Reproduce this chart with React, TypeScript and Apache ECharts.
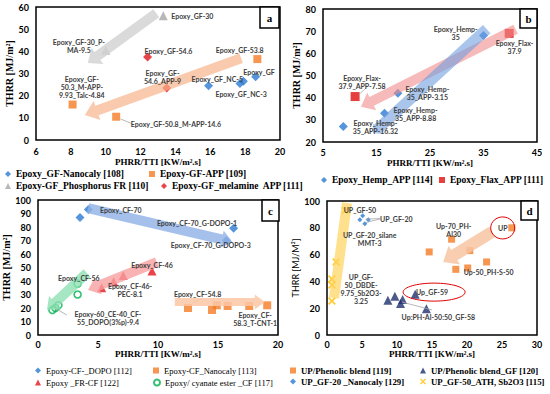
import React, { useEffect, useRef } from 'react';
import * as echarts from 'echarts';

// ---------- Panel a ----------
const aNanoclay = [[15.9, 24.5], [17.7, 25.5], [17.9, 26.5], [18.6, 28.5]];
const aAPP = [[18.7, 36.5], [8.1, 16], [10.6, 10.5]];
const aPhos = [[13.3, 56], [10, 40.5]];
const aMel = [[12.4, 37.5], [13.5, 23.5]];
const aArrows = [[12.9, 57.2, 8.97, 34.7], [17.77, 36.9, 8.8, 11.3]];
const aLabels: [number, number, string][] = [
  [14.97, 55.9, 'Epoxy_GF-30'],
  [8.46, 42.6, 'Epoxy_GF-30_P-\nMA-9.5'],
  [13.6, 40.1, 'Epoxy_GF-54.6'],
  [13.26, 28.4, 'Epoxy_GF-\n54.6_APP-9'],
  [17.69, 40.5, 'Epoxy_GF-53.8'],
  [8.63, 23.9, 'Epoxy_GF-\n50.3_M-APP-\n9.93_Talc-4.84'],
  [14.03, 7.2, 'Epoxy_GF-50.8_M-APP-14.6'],
  [16.4, 27.5, 'Epoxy_GF_NC-5'],
  [17.77, 20.7, 'Epoxy_GF_NC-3'],
  [18.8, 30.6, 'Epoxy_GF'],
];
const aLeaders = [[10.85, 9.5, 11.5, 7.4]];

// ---------- Panel b ----------
const bHemp = [[35, 68], [19, 42], [16.5, 33], [8.8, 27]];
const bFlax = [[39.8, 69], [11, 40.5]];
const bArrows = [[41, 70.9, 12.1, 35.9], [35.6, 70.9, 14.4, 24.1]];
const bLabels: [number, number, string][] = [
  [29.8, 69.3, 'Epoxy_Hemp-\n35'],
  [40.8, 63, 'Epoxy_Flax-\n37.9'],
  [12.3, 47, 'Epoxy_Flax-\n37.9_APP-7.58'],
  [24.5, 42.3, 'Epoxy_Hemp-\n35_APP-3.15'],
  [22.3, 32.7, 'Epoxy_Hemp-\n35_APP-8.88'],
  [14.8, 26.8, 'Epoxy_Hemp-\n35_APP-16.32'],
];
const bLeaders = [[13.1, 44.5, 11.7, 41.4]];

// ---------- Panel c ----------
const cDopo = [[3.5, 87], [4.2, 93], [16.3, 79], [15.7, 70]];
const cNano = [[12.5, 20], [14.5, 18.5], [14.9, 22], [15.8, 21.5], [17.6, 21.5], [19.1, 22]];
const cFR = [[5.3, 35], [6.3, 39.5], [7.1, 44], [9.5, 47.5]];
const cCE = [[3.3, 38], [3.3, 30], [1.7, 22], [1.45, 20], [1.2, 18.5]];
const cArrows = [
  [4.17, 94, 16.2, 68.9],
  [9.9, 54, 4.17, 33.3],
  [4.08, 45.9, 0.75, 18.5],
  [11.4, 24.4, 18.9, 24.4],
];
const cLabels: [number, number, string][] = [
  [6.9, 92.6, 'Epoxy_CF-70'],
  [13.25, 83, 'Epoxy_CF-70_G-DOPO-1'],
  [14.4, 66.7, 'Epoxy_CF-70_G-DOPO-3'],
  [9.5, 51.9, 'Epoxy_CF-46'],
  [7.67, 33, 'Epoxy_CF-46-\nPEC-8.1'],
  [3.4, 42.2, 'Epoxy_CF-56'],
  [5.83, 12.6, 'Epoxy-60_CE-40_CF-\n55_DOPO(3%p)-9.4'],
  [13.3, 30.4, 'Epoxy_CF-54.8'],
  [18.1, 11.5, 'Epoxy_CF-\n58.3_T-CNT-1'],
];
const cLeaders = [[1.4, 20, 2.4, 14.8], [13.7, 27.4, 12.9, 23.7]];

// ---------- Panel d ----------
const dPhen = [[26.4, 80], [17.8, 71.5], [14.6, 62], [20.4, 63], [22.8, 54.5], [18.4, 49], [20.1, 50]];
const dPhenGF = [[8.7, 26], [9.7, 29], [10.5, 23.5], [10.8, 26.5], [12.6, 30.5], [14.2, 19.5]];
const dNano = [[5.1, 89], [4.7, 86], [5.4, 83], [5.9, 86]];
const dATH = [[2.6, 93], [1.3, 54.5], [0.7, 41.8], [0.7, 37.3], [0.7, 25.4]];
const dArrows = [[23.6, 76.9, 16.6, 54.5], [2.86, 98.5, 1.0, 27.6]];
const dEllipses = [[25.1, 79.9], [15.3, 32]];
const dLabels: [number, number, string][] = [
  [4.7, 93.3, 'UP_GF-50'],
  [9.9, 86.6, 'UP_GF-20'],
  [6.1, 71.6, 'UP_GF-20_silane\nMMT-3'],
  [18.1, 78, 'Up-70_PH-\nAl30'],
  [25.1, 79.9, 'UP'],
  [23.1, 47, 'Up-50_PH-S-50'],
  [4.86, 34.7, 'UP_GF-\n50_DBDE-\n9.75_Sb2O3-\n3.25'],
  [15, 32, 'Up_GF-59'],
  [15.9, 13.4, 'Up:PH-Al-50:50_GF-58'],
];
const dLeaders = [[5.5, 86.5, 7.6, 86.9], [5.6, 84, 7.6, 86.6], [10.7, 24.6, 15, 18.7]];

const xName = 'PHRR/TTI [KW/m\u00B2.s]';
const FONT_SERIF = '"Liberation Serif", "Times New Roman", serif';
const FONT_SANS = 'Lato, "Liberation Sans", sans-serif';

const aArrowStyle = [
  { color: '#d4d4d4', shaft: 10, head: 20, headLen: 12, opacity: 0.85 },
  { color: '#f6b48c', shaft: 10, head: 20, headLen: 13, opacity: 0.7 },
];
const bArrowStyle = [
  { color: '#f28c8c', shaft: 10, head: 20, headLen: 12, opacity: 0.6 },
  { color: '#6f9ee0', shaft: 11, head: 14, headLen: 6, opacity: 0.6 },
];
const cArrowStyle = [
  { color: '#8fb1e6', shaft: 10, head: 18, headLen: 11, opacity: 0.8 },
  { color: '#f7a0a0', shaft: 10, head: 18, headLen: 11, opacity: 0.8 },
  { color: '#8fe0b4', shaft: 10, head: 18, headLen: 11, opacity: 0.8 },
  { color: '#fbc7a6', shaft: 8, head: 15, headLen: 10, opacity: 0.85 },
];
const dArrowStyle = [
  { color: '#f8c4a2', shaft: 12, head: 22, headLen: 13, opacity: 0.85 },
  { color: '#ffd35c', shaft: 10, head: 10, headLen: 0, opacity: 0.7 },
];

const xPath = 'path://M0,1.6L1.6,0L5,3.4L8.4,0L10,1.6L6.6,5L10,8.4L8.4,10L5,6.6L1.6,10L0,8.4L3.4,5Z';

function arrowSeries(gi: number, arrows: number[][], styles: any[]) {
  return {
    type: 'custom',
    xAxisIndex: gi,
    yAxisIndex: gi,
    z: 4,
    silent: true,
    data: arrows,
    encode: { x: [0, 2], y: [1, 3] },
    renderItem: (params: any, api: any) => {
      const s = styles[params.dataIndex];
      const p1 = api.coord([api.value(0), api.value(1)]);
      const p2 = api.coord([api.value(2), api.value(3)]);
      const dx = p2[0] - p1[0];
      const dy = p2[1] - p1[1];
      const len = Math.hypot(dx, dy) || 1;
      const ux = dx / len;
      const uy = dy / len;
      const nx = -uy;
      const ny = ux;
      const bx = p2[0] - ux * s.headLen;
      const by = p2[1] - uy * s.headLen;
      const w = s.shaft / 2;
      const h = s.head / 2;
      const pts = [
        [p1[0] + nx * w, p1[1] + ny * w],
        [bx + nx * w, by + ny * w],
        [bx + nx * h, by + ny * h],
        [p2[0], p2[1]],
        [bx - nx * h, by - ny * h],
        [bx - nx * w, by - ny * w],
        [p1[0] - nx * w, p1[1] - ny * w],
      ];
      return { type: 'polygon', shape: { points: pts }, style: { fill: s.color, opacity: s.opacity } };
    },
  };
}

function leaderSeries(gi: number, lines: number[][]) {
  return {
    type: 'custom',
    xAxisIndex: gi,
    yAxisIndex: gi,
    z: 3,
    silent: true,
    data: lines,
    encode: { x: [0, 2], y: [1, 3] },
    renderItem: (params: any, api: any) => {
      const p1 = api.coord([api.value(0), api.value(1)]);
      const p2 = api.coord([api.value(2), api.value(3)]);
      return {
        type: 'line',
        shape: { x1: p1[0], y1: p1[1], x2: p2[0], y2: p2[1] },
        style: { stroke: '#a6a6a6', lineWidth: 0.8 },
      };
    },
  };
}

function labelSeries(gi: number, labels: [number, number, string][]) {
  return {
    type: 'custom',
    xAxisIndex: gi,
    yAxisIndex: gi,
    z: 6,
    silent: true,
    data: labels.map((l) => [l[0], l[1]]),
    encode: { x: 0, y: 1 },
    renderItem: (params: any, api: any) => {
      const p = api.coord([api.value(0), api.value(1)]);
      const txt = labels[params.dataIndex][2];
      return {
        type: 'text',
        x: p[0],
        y: p[1],
        style: {
          text: txt,
          fill: '#404040',
          fontSize: 7,
          fontWeight: 'bold',
          fontFamily: FONT_SANS,
          align: 'center',
          verticalAlign: 'middle',
          textAlign: 'center',
          textVerticalAlign: 'middle',
          lineHeight: 8,
        },
      };
    },
  };
}

function scatter(gi: number, name: string, data: number[][], symbol: string, size: number, color: string, extra: any = {}) {
  return {
    type: 'scatter',
    name,
    xAxisIndex: gi,
    yAxisIndex: gi,
    data,
    symbol,
    symbolSize: size,
    itemStyle: { color, ...extra },
    z: 2,
  };
}

function xAxis(gi: number, min: number, max: number, interval: number, margin: number, gap: number) {
  return {
    type: 'value',
    gridIndex: gi,
    min,
    max,
    interval,
    name: xName,
    nameLocation: 'middle',
    nameGap: gap,
    nameTextStyle: { fontFamily: FONT_SERIF, fontWeight: 'bold', fontSize: 9, color: '#000' },
    axisLine: { show: false },
    axisTick: { show: false },
    splitLine: { show: false },
    axisLabel: { fontFamily: FONT_SANS, fontWeight: 'bold', fontSize: 9, color: '#000', margin },
  };
}

function yAxis(gi: number, min: number, max: number, interval: number, name: string, gap: number, serif = true) {
  return {
    type: 'value',
    gridIndex: gi,
    min,
    max,
    interval,
    name,
    nameLocation: 'middle',
    nameGap: gap,
    nameTextStyle: serif
      ? { fontFamily: FONT_SERIF, fontWeight: 'bold', fontSize: 10, color: '#000' }
      : { fontFamily: FONT_SANS, fontWeight: 'normal', fontSize: 9, color: '#000' },
    axisLine: { show: false },
    axisTick: { show: false },
    splitLine: { show: false },
    axisLabel: { fontFamily: FONT_SANS, fontWeight: 'bold', fontSize: 9, color: '#000', margin: 7 },
  };
}

function legend(name: string, left: number, cy: number, bold = true, size = 9.5) {
  return {
    data: [name],
    left,
    top: cy - 6,
    padding: 0,
    itemWidth: 6,
    itemHeight: 6,
    itemGap: 0,
    textStyle: { fontFamily: FONT_SERIF, fontWeight: bold ? 'bold' : 'normal', fontSize: size, color: '#000' },
    selectedMode: false,
  };
}

const panelBoxes = [
  { x: 260, y: 7, w: 19, h: 21, t: 'a' },
  { x: 520, y: 9, w: 17, h: 19, t: 'b' },
  { x: 262, y: 200, w: 17, h: 21, t: 'c' },
  { x: 521, y: 201, w: 17, h: 19, t: 'd' },
];

export default function App() {
  const ref = useRef<HTMLDivElement>(null);
  useEffect(() => {
    if (!ref.current) return;
    const chart = echarts.init(ref.current, undefined, { renderer: 'svg' });
    const gridBase = { show: true, borderColor: '#000', borderWidth: 1.5, backgroundColor: '#fff', containLabel: false };
    const option: any = {
      animation: false,
      backgroundColor: '#fff',
      grid: [
        { ...gridBase, left: 36, top: 7, width: 244, height: 133 },
        { ...gridBase, left: 323, top: 9, width: 214, height: 133 },
        { ...gridBase, left: 38, top: 200, width: 240, height: 135 },
        { ...gridBase, left: 327, top: 201, width: 210, height: 134 },
      ],
      xAxis: [
        xAxis(0, 6, 20, 2, 7, 17),
        xAxis(1, 5, 45, 10, 6, 16),
        xAxis(2, 0, 20, 5, 5, 14),
        xAxis(3, 0, 30, 5, 5, 14),
      ],
      yAxis: [
        yAxis(0, 0, 60, 10, 'THRR [MJ/m\u00B2]', 15),
        yAxis(1, 20, 80, 10, 'THRR [MJ/m\u00B2]', 19),
        yAxis(2, 0, 100, 10, 'THRR [MJ/m\u00B2]', 22),
        yAxis(3, 0, 100, 20, 'THRR [MJ/M\u00B2]', 25, false),
      ],
      legend: [
        legend('Epoxy_GF-Nanocaly [108]', 5, 175),
        legend('Epoxy-GF-APP [109]', 149, 175),
        legend('Epoxy-GF_Phosphorus FR [110]', 5, 187),
        legend('Epoxy-GF_melamine  APP [111]', 161, 187),
        legend('Epoxy_Hemp_APP [114]', 321, 181),
        legend('Epoxy_Flax_APP [111]', 439, 181),
        legend('Epoxy-CF-_DOPO [112]', 35, 372, false, 8.5),
        legend('Epoxy-CF_Nanocaly [113]', 153, 372, false, 8.5),
        legend('Epoxy _FR-CF [122]', 35, 384, false, 8.5),
        legend('Epoxy/ cyanate ester _CF [117]', 153, 384, false, 8.5),
        legend('UP/Phenolic blend [119]', 290, 372, true, 8.8),
        legend('UP/Phenolic blend_GF [120]', 420, 372, true, 8.8),
        legend('UP_GF-20 _Nanocaly [129]', 290, 383, true, 8.8),
        legend('UP_GF-50_ATH, Sb2O3 [115]', 420, 383, true, 8.8),
      ],
      series: [
        // panel a
        scatter(0, 'Epoxy_GF-Nanocaly [108]', aNanoclay, 'diamond', 9, '#2a7ad2'),
        scatter(0, 'Epoxy-GF-APP [109]', aAPP, 'rect', 8, '#f47c26'),
        scatter(0, 'Epoxy-GF_Phosphorus FR [110]', aPhos, 'triangle', 9, '#a6a6a6'),
        scatter(0, 'Epoxy-GF_melamine  APP [111]', aMel, 'diamond', 9, '#e5141b'),
        arrowSeries(0, aArrows, aArrowStyle),
        leaderSeries(0, aLeaders),
        labelSeries(0, aLabels),
        // panel b
        scatter(1, 'Epoxy_Hemp_APP [114]', bHemp, 'diamond', 9, '#2a7ad2'),
        scatter(1, 'Epoxy_Flax_APP [111]', bFlax, 'rect', 9, '#e00f0f'),
        arrowSeries(1, bArrows, bArrowStyle),
        leaderSeries(1, bLeaders),
        labelSeries(1, bLabels),
        // panel c
        scatter(2, 'Epoxy-CF-_DOPO [112]', cDopo, 'diamond', 9, '#2a7ad2'),
        scatter(2, 'Epoxy-CF_Nanocaly [113]', cNano, 'rect', 8, '#f47c26'),
        scatter(2, 'Epoxy _FR-CF [122]', cFR, 'triangle', 9, '#e5141b'),
        scatter(2, 'Epoxy/ cyanate ester _CF [117]', cCE, 'circle', 7, 'rgba(255,255,255,0)', { borderColor: '#00b050', borderWidth: 1.6 }),
        arrowSeries(2, cArrows, cArrowStyle),
        leaderSeries(2, cLeaders),
        labelSeries(2, cLabels),
        // panel d
        scatter(3, 'UP/Phenolic blend [119]', dPhen, 'rect', 7, '#f47c26'),
        scatter(3, 'UP/Phenolic blend_GF [120]', dPhenGF, 'triangle', 9, '#1f2f6e'),
        scatter(3, 'UP_GF-20 _Nanocaly [129]', dNano, 'diamond', 5, '#2a7ad2'),
        scatter(3, 'UP_GF-50_ATH, Sb2O3 [115]', dATH, xPath, 8, '#ffc000'),
        arrowSeries(3, dArrows, dArrowStyle),
        leaderSeries(3, dLeaders),
        {
          type: 'custom',
          xAxisIndex: 3,
          yAxisIndex: 3,
          z: 5,
          silent: true,
          data: dEllipses,
          encode: { x: 0, y: 1 },
          renderItem: (params: any, api: any) => {
            const p = api.coord([api.value(0), api.value(1)]);
            const r = params.dataIndex === 0 ? [12, 11] : [31, 9];
            return {
              type: 'ellipse',
              shape: { cx: p[0], cy: p[1], rx: r[0], ry: r[1] },
              style: { fill: 'none', stroke: '#e00000', lineWidth: 1 },
            };
          },
        },
        labelSeries(3, dLabels),
      ],
      graphic: panelBoxes.map((b) => ({
        type: 'group',
        z: 100,
        children: [
          { type: 'rect', shape: { x: b.x, y: b.y, width: b.w, height: b.h }, style: { fill: '#fff', stroke: '#000', lineWidth: 1.5 } },
          {
            type: 'text',
            x: b.x + b.w / 2,
            y: b.y + b.h / 2,
            style: { text: b.t, fontFamily: FONT_SERIF, fontWeight: 'bold', fontSize: 11, fill: '#000', align: 'center', verticalAlign: 'middle' },
          },
        ],
      })),
    };
    chart.setOption(option);
    return () => chart.dispose();
  }, []);
  return <div ref={ref} style={{ position: 'fixed', left: 0, top: 0, width: 550, height: 394, background: '#fff' }} />;
}
